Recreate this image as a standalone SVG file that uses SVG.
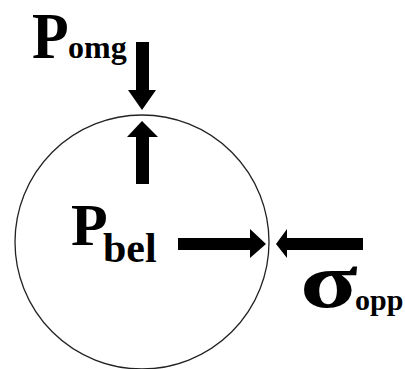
<svg xmlns="http://www.w3.org/2000/svg" width="405" height="369" viewBox="0 0 405 369">
<style>
.t{font-family:"Liberation Serif","Times New Roman",serif;font-weight:bold;fill:#000}
.a{fill:#000}
</style>
<rect width="405" height="369" fill="#fff"/>
<g id="circle"><circle cx="142" cy="242" r="127" fill="none" stroke="#222" stroke-width="1.3"/></g>
<g id="connectors">
<polygon class="a" points="136,42 149,42 149,90 156,90 142,110 128,90 136,90"/>
<polygon class="a" points="142,121 158,137 149,137 149,184 136,184 136,137 127,137"/>
<polygon class="a" points="178,238 250,238 250,229 266,244 250,258 250,250 178,250"/>
<polygon class="a" points="276,244 287,229 287,238 363,238 363,250 287,250 287,258"/>
</g>
<g id="p-omg"><text class="t" font-size="60" transform="translate(32,58) scale(1,1.08)">P</text><text class="t" x="68" y="58" font-size="32">omg</text></g>
<g id="p-bel"><text class="t" x="71" y="245" font-size="60">P</text><text class="t" x="103" y="262" font-size="42">bel</text></g>
<g id="sigma-opp"><text class="t" font-size="78" transform="translate(300,307) scale(1.36,1)">σ</text><text class="t" x="355" y="310" font-size="30">opp</text></g>
</svg>
